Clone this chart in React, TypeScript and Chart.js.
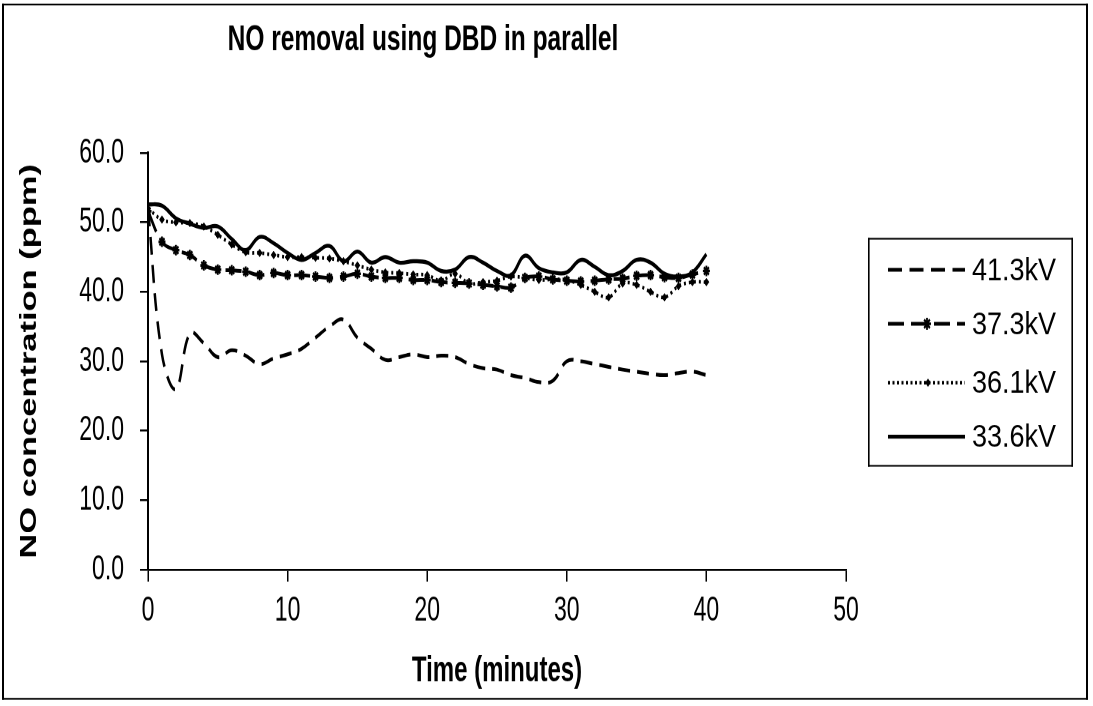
import React, { useEffect, useRef } from "react";
import { Chart, registerables } from "chart.js";

Chart.register(...registerables);

// ---------- data ----------
const CHART_TITLE = "NO removal using DBD in parallel";
const X_TITLE = "Time (minutes)";
const Y_TITLE = "NO concentration (ppm)";

const TIME_MIN = [
  0, 1, 2, 3, 4, 5, 6, 7, 8, 9, 10, 11, 12, 13, 14, 15, 16, 17, 18, 19, 20,
  21, 22, 23, 24, 25, 26, 27, 28, 29, 30, 31, 32, 33, 34, 35, 36, 37, 38, 39, 40,
];

const KV_41_3 = [
  52.0, 31.0, 26.0, 34.0, 32.6, 30.6, 31.6, 30.8, 29.6, 30.4,
  31.0, 31.8, 33.4, 35.0, 36.0, 33.4, 31.8, 30.2, 30.6, 31.0,
  30.6, 30.8, 30.6, 29.6, 29.0, 28.8, 28.0, 27.6, 27.0, 27.2,
  30.0, 30.0, 29.6, 29.2, 28.8, 28.5, 28.2, 28.0, 28.3, 28.5, 28.0,
];

const KV_37_3 = [
  51.6, 47.2, 46.0, 45.3, 43.8, 43.2, 43.1, 42.9, 42.4, 42.7,
  42.4, 42.4, 42.2, 42.0, 42.2, 42.6, 42.2, 42.0, 42.0, 41.7,
  41.7, 41.4, 41.3, 41.2, 41.0, 40.8, 40.6, 42.0, 42.2, 41.8,
  41.6, 41.5, 41.6, 41.8, 41.9, 42.3, 42.4, 42.1, 42.0, 42.5, 43.0,
];

const KV_36_1 = [
  52.0, 50.4, 50.0, 49.9, 49.4, 48.2, 46.8, 45.7, 45.6, 45.3,
  45.0, 45.0, 44.9, 44.8, 44.4, 43.8, 43.2, 42.8, 42.7, 42.5,
  42.4, 41.6, 42.6, 41.2, 41.4, 41.6, 42.2, 42.0, 41.7, 41.8,
  41.7, 41.0, 40.0, 39.2, 41.2, 41.0, 40.0, 39.2, 40.8, 41.4, 41.4,
];

const KV_33_6 = [
  52.6, 52.4, 50.6, 49.8, 49.2, 49.4, 47.6, 46.0, 47.9, 47.0,
  45.6, 44.6, 45.6, 46.6, 44.4, 45.8, 44.2, 45.0, 44.2, 44.4,
  44.2, 43.0, 43.2, 45.0, 44.2, 43.0, 42.4, 45.2, 43.4, 42.8,
  42.8, 44.6, 43.6, 42.4, 43.0, 44.6, 44.2, 42.6, 42.2, 42.8, 45.4,
];

const SERIES_LABELS = ["41.3kV", "37.3kV", "36.1kV", "33.6kV"];
const X_TICKS = [0, 10, 20, 30, 40, 50];
const Y_TICKS = [0, 10, 20, 30, 40, 50, 60];

// ---------- layout (virtual canvas, stretched vertically by K) ----------
const W = 1093;
const VH = 471;
const K = 706 / VH;
const FONT = "'Liberation Sans', Arial, Helvetica, sans-serif";

const toPoints = (ys: number[]) => TIME_MIN.map((x, i) => ({ x, y: ys[i] }));

const outerBorderPlugin = {
  id: "outerBorder",
  afterDraw(chart: any) {
    const ctx = chart.ctx;
    ctx.save();
    ctx.fillStyle = "#000";
    ctx.fillRect(2, 2.4, 1086, 1.2);
    ctx.fillRect(2, 465.6, 1086, 1.2);
    ctx.fillRect(2, 2.4, 2, 464.4);
    ctx.fillRect(1086, 2.4, 2, 464.4);
    ctx.restore();
  },
};

const LEGEND_BOX = { l: 868, r: 1073, t: 158.7, b: 311.3 };
const LEGEND_Y = [180, 216, 255.3, 291.3];

const drawStar = (ctx: any, x: number, y: number, r: number) => {
  ctx.beginPath();
  for (let k = 0; k < 4; k++) {
    const a = (Math.PI / 4) * k;
    ctx.moveTo(x - Math.cos(a) * r, y - Math.sin(a) * r);
    ctx.lineTo(x + Math.cos(a) * r, y + Math.sin(a) * r);
  }
  ctx.stroke();
};

const drawDiamond = (ctx: any, x: number, y: number, r: number) => {
  ctx.beginPath();
  ctx.moveTo(x, y - r);
  ctx.lineTo(x + r, y);
  ctx.lineTo(x, y + r);
  ctx.lineTo(x - r, y);
  ctx.closePath();
  ctx.fill();
};

const boxLegendPlugin = {
  id: "boxLegend",
  afterDraw(chart: any) {
    const ctx = chart.ctx;
    const { l, r, t, b } = LEGEND_BOX;
    ctx.save();
    ctx.fillStyle = "#000";
    ctx.strokeStyle = "#000";
    ctx.fillRect(l, t, r - l, 1.1);
    ctx.fillRect(l, b - 1.1, r - l, 1.1);
    ctx.fillRect(l, t, 1.6, b - t);
    ctx.fillRect(r - 1.6, t, 1.6, b - t);
    chart.data.datasets.forEach((ds: any, i: number) => {
      const y = LEGEND_Y[i];
      ctx.setLineDash(ds.legendDash || []);
      ctx.lineWidth = ds.borderWidth;
      ctx.beginPath();
      ctx.moveTo(888, y);
      ctx.lineTo(965, y);
      ctx.stroke();
      ctx.setLineDash([]);
      if (ds.pointStyle === "star") {
        ctx.lineWidth = 1.8;
        drawStar(ctx, 927, y, 4);
      } else if (ds.pointStyle === "rectRot" && ds.pointRadius > 0) {
        drawDiamond(ctx, 928, y, 2.8);
      }
      ctx.save();
      ctx.translate(972, y);
      ctx.scale(1, 0.8);
      ctx.font = `27px ${FONT}`;
      ctx.textAlign = "left";
      ctx.textBaseline = "middle";
      ctx.fillText(ds.label, 0, 1);
      ctx.restore();
    });
    ctx.restore();
  },
};

export default function App() {
  const ref = useRef<HTMLCanvasElement>(null);

  useEffect(() => {
    const canvas = ref.current;
    if (!canvas) return;
    const chart = new Chart(canvas, {
      type: "line",
      data: {
        datasets: [
          {
            label: SERIES_LABELS[0],
            data: toPoints(KV_41_3),
            borderColor: "#000",
            borderWidth: 2.5,
            borderDash: [12, 7],
            legendDash: [14, 7.5],
            pointRadius: 0,
            tension: 0.4,
            fill: false,
          } as any,
          {
            label: SERIES_LABELS[1],
            data: toPoints(KV_37_3),
            borderColor: "#000",
            borderWidth: 2.5,
            borderDash: [16, 7],
            legendDash: [16, 7],
            pointStyle: "star",
            pointRadius: 3.5,
            pointBorderWidth: 1.8,
            pointBorderColor: "#000",
            pointBackgroundColor: "#000",
            tension: 0.4,
            fill: false,
          } as any,
          {
            label: SERIES_LABELS[2],
            data: toPoints(KV_36_1),
            borderColor: "#000",
            borderWidth: 2.4,
            borderDash: [2, 3],
            legendDash: [2, 2.5],
            pointStyle: "rectRot",
            pointRadius: 2.6,
            pointBorderWidth: 0.5,
            pointBorderColor: "#000",
            pointBackgroundColor: "#000",
            tension: 0.4,
            fill: false,
          } as any,
          {
            label: SERIES_LABELS[3],
            data: toPoints(KV_33_6),
            borderColor: "#000",
            borderWidth: 2.7,
            legendDash: [],
            pointRadius: 0,
            tension: 0.4,
            fill: false,
          } as any,
        ],
      },
      options: {
        responsive: false,
        animation: false,
        devicePixelRatio: 2,
        events: [],
        layout: { padding: { left: 0, top: 4, right: 247, bottom: 0 } },
        plugins: {
          legend: { display: false },
          tooltip: { enabled: false },
          title: {
            display: true,
            text: CHART_TITLE,
            color: "#000",
            font: { family: FONT, size: 24.5, weight: "bold", lineHeight: 1.2 },
            padding: { top: 8, bottom: 60.6 },
          },
        },
        scales: {
          x: {
            type: "linear",
            min: 0,
            max: 50,
            afterFit: (s: any) => {
              s.height = 91;
            },
            afterBuildTicks: (s: any) => {
              s.ticks = X_TICKS.map((v) => ({ value: v }));
            },
            ticks: {
              color: "#000",
              font: { family: FONT, size: 23 },
              padding: 6,
              maxRotation: 0,
              autoSkip: false,
            },
            grid: {
              drawOnChartArea: false,
              drawTicks: true,
              tickLength: 8,
              color: "#000",
              lineWidth: 1.5,
            },
            border: { display: true, color: "#000", width: 1.4 },
            title: {
              display: true,
              text: X_TITLE,
              color: "#000",
              font: { family: FONT, size: 24, weight: "bold", lineHeight: 1.2 },
              padding: { top: 0, bottom: 8.6 },
            },
          },
          y: {
            type: "linear",
            min: 0,
            max: 60,
            afterFit: (s: any) => {
              s.width = 148;
            },
            afterBuildTicks: (s: any) => {
              s.ticks = Y_TICKS.map((v) => ({ value: v }));
            },
            ticks: {
              color: "#000",
              font: { family: FONT, size: 23 },
              padding: 16,
              autoSkip: false,
              callback: (v: any) => Number(v).toFixed(1),
            },
            grid: {
              drawOnChartArea: false,
              drawTicks: true,
              tickLength: 8,
              color: "#000",
              lineWidth: 1.3,
            },
            border: { display: true, color: "#000", width: 2 },
            title: {
              display: true,
              text: Y_TITLE,
              color: "#000",
              font: { family: FONT, size: 23, weight: "bold", lineHeight: 1.2 },
              padding: { top: 16, bottom: 0 },
            },
          },
        },
      } as any,
      plugins: [outerBorderPlugin, boxLegendPlugin],
    });
    return () => chart.destroy();
  }, []);

  return (
    <div
      style={{
        position: "absolute",
        left: 0,
        top: 0,
        width: W,
        height: 706,
        overflow: "hidden",
        background: "#fff",
      }}
    >
      <canvas
        ref={ref}
        width={W}
        height={VH}
        style={{
          display: "block",
          width: `${W}px`,
          height: `${VH}px`,
          transform: `scaleY(${K})`,
          transformOrigin: "0 0",
        }}
      />
    </div>
  );
}
